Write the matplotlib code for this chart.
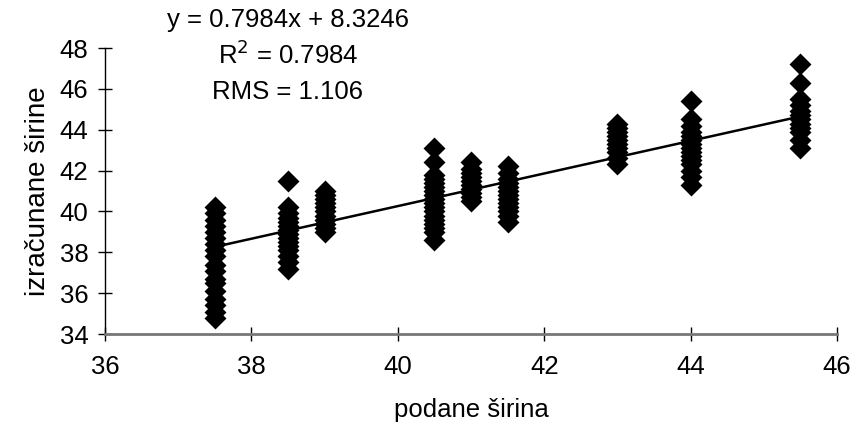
import numpy as np
import matplotlib
matplotlib.use('Agg')
import matplotlib.pyplot as plt

plt.rcParams['font.family'] = ['Liberation Sans', 'DejaVu Sans']

# measured widths (x) and computed widths (y), one list per column
x_levels = [37.5, 38.5, 39.0, 40.5, 41.0, 41.5, 43.0, 44.0, 45.5]
y_columns = [
    [40.2, 39.9, 39.6, 39.3, 39.0, 38.7, 38.4, 38.1, 37.8, 37.4, 37.1,
     36.7, 36.5, 36.1, 35.7, 35.4, 35.1, 34.8],
    [41.5, 40.2, 39.9, 39.7, 39.5, 39.3, 39.1, 38.9, 38.7, 38.5, 38.3,
     38.1, 37.8, 37.5, 37.2],
    [41.0, 40.8, 40.6, 40.4, 40.2, 40.0, 39.8, 39.6, 39.4, 39.2, 39.0],
    [43.1, 42.4, 41.8, 41.6, 41.4, 41.2, 41.0, 40.8, 40.6, 40.4, 40.2,
     40.0, 39.8, 39.6, 39.4, 39.2, 39.0, 38.6],
    [42.4, 42.1, 41.9, 41.7, 41.5, 41.3, 41.1, 40.9, 40.7, 40.5],
    [42.2, 41.9, 41.6, 41.4, 41.2, 41.0, 40.8, 40.6, 40.4, 40.2, 40.0,
     39.8, 39.5],
    [44.3, 44.1, 43.9, 43.7, 43.5, 43.3, 43.1, 42.9, 42.6, 42.3],
    [45.4, 44.5, 44.2, 43.9, 43.7, 43.5, 43.3, 43.1, 42.9, 42.7, 42.5,
     42.3, 42.0, 41.7, 41.3],
    [47.2, 46.3, 45.5, 45.2, 44.9, 44.7, 44.5, 44.3, 44.1, 43.9, 43.5,
     43.1],
]
slope = 0.7984
intercept = 8.3246
r2 = 0.7984
rms = 1.106

xs = np.concatenate([[x] * len(col) for x, col in zip(x_levels, y_columns)])
ys = np.concatenate(y_columns)

fs = 18.5
fig = plt.figure(figsize=(8.56, 4.38), dpi=100)
ax = fig.add_axes([105 / 856, 1 - 334 / 438, (837 - 105) / 856, (334 - 48) / 438])

ax.scatter(xs, ys, marker='D', s=125, color='black', linewidths=0, zorder=3)
line_x = np.array([min(x_levels), max(x_levels)])
ax.plot(line_x, slope * line_x + intercept, color='black', lw=1.8, zorder=4)

ax.set_xlim(36, 46)
ax.set_ylim(34, 48)
ax.set_xticks(np.arange(36, 47, 2))
ax.set_yticks(np.arange(34, 49, 2))
ax.tick_params(direction='inout', length=10, width=1, labelsize=fs)
ax.tick_params(axis='x', pad=10)
ax.tick_params(axis='y', pad=7)
for side in ['top', 'right']:
    ax.spines[side].set_visible(False)
ax.spines['left'].set_linewidth(1)
ax.spines['bottom'].set_color('#777777')
ax.spines['bottom'].set_linewidth(2)

ax.set_xlabel('podane širina', fontsize=fs, labelpad=14)
ax.set_ylabel('izračunane širine', fontsize=20, labelpad=6)

fig.text(288 / 856, 1 - 20 / 438, f'y = {slope}x + {intercept}', fontsize=fs,
         ha='center', va='center')
fig.text(288 / 856, 1 - 55 / 438, f'R$^2$ = {r2}', fontsize=fs,
         ha='center', va='center')
fig.text(288 / 856, 1 - 92 / 438, f'RMS = {rms}', fontsize=fs,
         ha='center', va='center')

fig.savefig('out.png', dpi=100)
